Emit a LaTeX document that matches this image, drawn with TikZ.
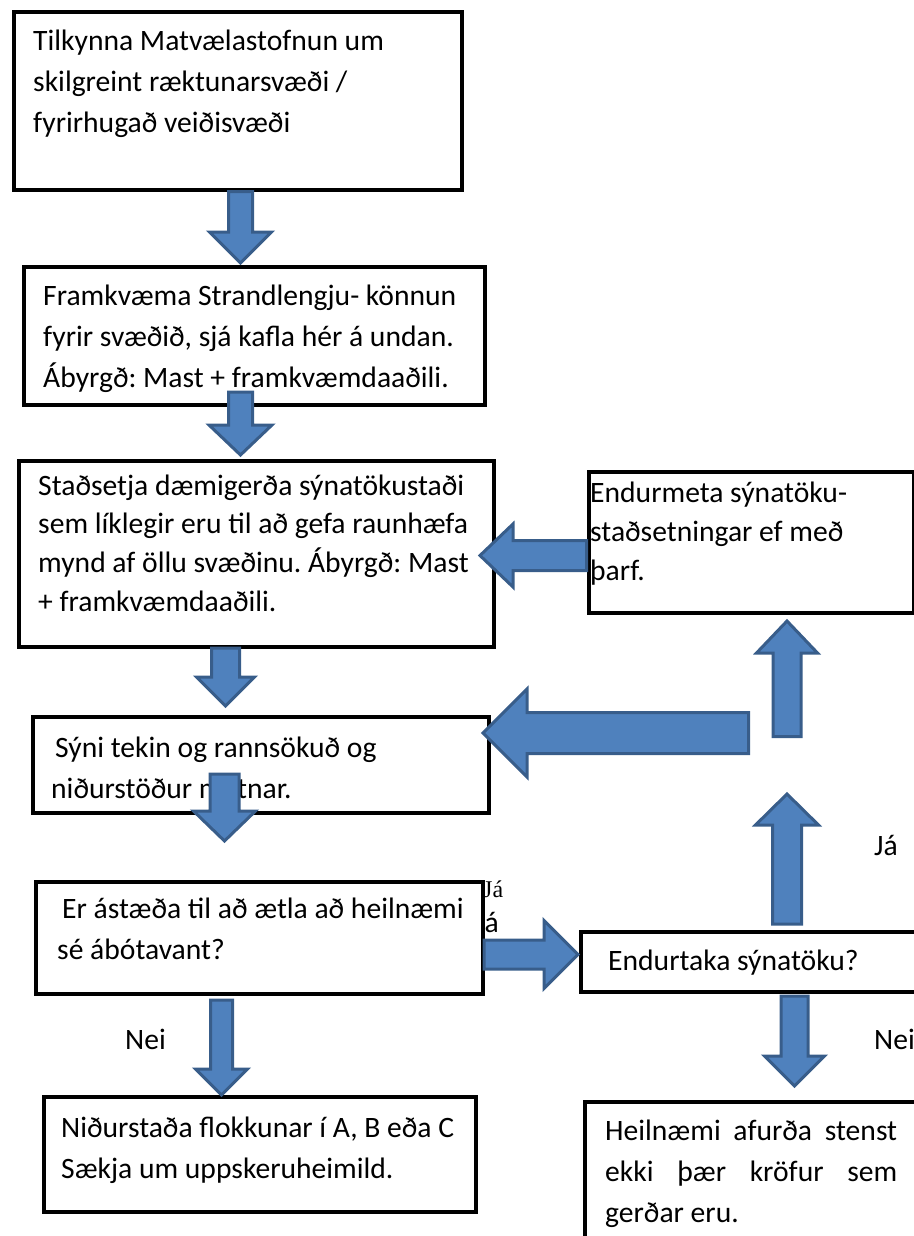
\documentclass[tikz,border=0pt]{standalone}
\usepackage{fontspec}
\setmainfont{Carlito}
\newfontfamily\timesfont{Liberation Serif}
\usetikzlibrary{calc}
\frenchspacing
\definecolor{arrowblue}{HTML}{4F81BD}
\definecolor{arrowedge}{HTML}{385D8A}
\tikzstyle{box}=[draw=black, line width=4pt, fill=white, anchor=north west, inner sep=0pt]
\tikzstyle{txt}=[anchor=north west, inner sep=0pt, align=left]
\tikzstyle{lbl}=[anchor=base west, inner sep=0pt]
\tikzstyle{blockarrow}=[fill=arrowblue, draw=arrowedge, line width=3pt]
\newcommand{\topstrut}{\rule{0pt}{26pt}}
% tail, tip, half shaft, half head, head length
\newcommand{\fatarrow}[5]{%
  \coordinate (neck) at ($(#2)!#5!(#1)$);
  \draw[blockarrow] ($(#1)!#3!90:(#2)$) -- ($(neck)!#3!-90:(#1)$) -- ($(neck)!#4!-90:(#1)$) -- (#2)
    -- ($(neck)!#4!90:(#1)$) -- ($(neck)!#3!90:(#1)$) -- ($(#1)!#3!-90:(#2)$) -- cycle;}

\begin{document}
\begin{tikzpicture}[x=1pt, y=-1pt, font=\fontsize{29.6}{41}\selectfont]
            \useasboundingbox (0,0) rectangle (913,1236);

            %%%%% hidden label under the question box
            \node[lbl] (jahidden) at (475,932) {Já};

            %%%%% Boxes
            \node[box, minimum width=448, minimum height=178] (tilkynna) at (12,10) {};
            \node[box, minimum width=461, minimum height=138] (strand) at (22,265) {};
            \node[box, minimum width=475, minimum height=186] (stadset) at (17,459) {};
            \node[box, minimum width=325, minimum height=141] (endurmeta) at (587,470) {};
            \node[box, minimum width=456, minimum height=96] (syni) at (31,715) {};
            \node[box, minimum width=447, minimum height=112] (astaeda) at (34,880) {};
            \node[box, minimum width=361, minimum height=60] (endurtaka) at (579,930) {};
            \node[box, minimum width=432, minimum height=115] (nidurstada) at (42,1095) {};
            \node[box, minimum width=357, minimum height=160] (heilnaemi) at (583,1100) {};

            %%%%% Texts
            \node[txt] (tilkynnatxt) at (33,24) {\topstrut Tilkynna Matvælastofnun um\\skilgreint ræktunarsvæði /\\fyrirhugað veiðisvæði};
            \node[txt] (strandtxt) at (43,279) {\topstrut Framkvæma Strandlengju- könnun\\fyrir svæðið, sjá kafla hér á undan.\\Ábyrgð: Mast + framkvæmdaaðili.};
            \node[txt, font=\fontsize{29.6}{38.7}\selectfont] (stadsettxt) at (38,469) {\topstrut Staðsetja dæmigerða sýnatökustaði\\sem líklegir eru til að gefa raunhæfa\\mynd af öllu svæðinu. Ábyrgð: Mast\\+ framkvæmdaaðili.};
            \node[txt, font=\fontsize{29.6}{39}\selectfont] (endurmetatxt) at (590,476) {\topstrut Endurmeta sýnatöku-\\staðsetningar ef með\\þarf.};
            \node[txt] (synitxt) at (51,731) {\topstrut\hspace{4pt}Sýni tekin og rannsökuð og\\niðurstöður metnar.};
            \node[txt] (astaedatxt) at (57,892) {\topstrut\hspace{5pt}Er ástæða til að ætla að heilnæmi\\sé ábótavant?};
            \node[txt] (endurtakatxt) at (608,944) {\topstrut Endurtaka sýnatöku?};
            \node[txt] (nidurstadatxt) at (61,1111) {\topstrut Niðurstaða flokkunar í A, B eða C\\Sækja um uppskeruheimild.};
            \node[txt] (heilnaemitxt) at (605,1114) {\topstrut\makebox[292pt][s]{Heilnæmi afurða stenst}\\\makebox[292pt][s]{ekki þær kröfur sem}\\gerðar eru.};

            %%%%% Labels
            \node[lbl] (neileft) at (125,1049) {Nei};
            \node[lbl] (neiright) at (874,1049) {Nei};
            \node[lbl] (jaright) at (874,855) {Já};

            %%%%% Arrows
            \coordinate (a1s) at (240.5,191.5); \coordinate (a1e) at (240.5,263);
            \fatarrow{a1s}{a1e}{12pt}{31pt}{31pt}
            \coordinate (a2s) at (240.5,392); \coordinate (a2e) at (240.5,455);
            \fatarrow{a2s}{a2e}{12pt}{31.5pt}{30pt}
            \coordinate (a3s) at (225.5,648); \coordinate (a3e) at (225.5,706);
            \fatarrow{a3s}{a3e}{14pt}{29pt}{29pt}
            \coordinate (a4s) at (224.5,774); \coordinate (a4e) at (224.5,841);
            \fatarrow{a4s}{a4e}{14.5pt}{31pt}{30pt}
            \coordinate (a5s) at (221.5,1000); \coordinate (a5e) at (221.5,1095);
            \fatarrow{a5s}{a5e}{11pt}{26pt}{26pt}
            \coordinate (a6s) at (794.5,996); \coordinate (a6e) at (794.5,1086);
            \fatarrow{a6s}{a6e}{13.5pt}{30pt}{30pt}
            \coordinate (a7s) at (484,954.5); \coordinate (a7e) at (578,954.5);
            \fatarrow{a7s}{a7e}{14.5pt}{34pt}{34pt}
            \coordinate (a8s) at (787,924); \coordinate (a8e) at (787,794);
            \fatarrow{a8s}{a8e}{14.5pt}{31.5pt}{31pt}
            \coordinate (a9s) at (748.5,733); \coordinate (a9e) at (483,733);
            \fatarrow{a9s}{a9e}{20.5pt}{44pt}{44pt}
            \coordinate (a10s) at (787,736.5); \coordinate (a10e) at (787,621);
            \fatarrow{a10s}{a10e}{14pt}{30.5pt}{32pt}
            \coordinate (a11s) at (586.5,555.5); \coordinate (a11e) at (480,555.5);
            \fatarrow{a11s}{a11e}{15pt}{31.5pt}{33pt}

            %%%%% serif label on the edge
            \node[lbl, font=\timesfont\fontsize{24}{28}\selectfont] (jaserif) at (483,897) {Já};
        \end{tikzpicture}
\end{document}
